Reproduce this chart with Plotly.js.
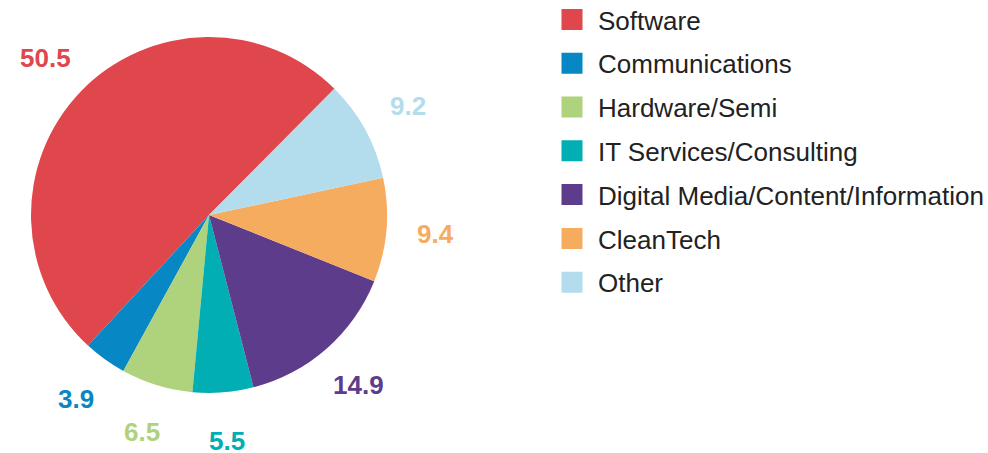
<!DOCTYPE html>
<html>
<head>
<meta charset="utf-8">
<script src="https://cdn.plot.ly/plotly-3.0.1.min.js"></script>
<style>html,body{margin:0;padding:0;background:#fff;}#chart{width:988px;height:453px;}</style>
</head>
<body>
<div id="chart"></div>
<script>
const labels = ["Software", "Communications", "Hardware/Semi", "IT Services/Consulting", "Digital Media/Content/Information", "CleanTech", "Other"];
const values = [50.5, 3.9, 6.5, 5.5, 14.9, 9.4, 9.2];
const colors = ["#E0474C", "#0787C3", "#AFD27D", "#00AEB3", "#5E3C8C", "#F6AC5F", "#B3DCEC"];

const W = 988, H = 453;
const cx = 209, cy = 215, r = 178, labelR = 227;
const startAngle = 44.8; // clockwise from 12 o'clock, where the first slice begins (going counterclockwise)
const FONT = 'Liberation Sans, Arial, sans-serif';

const total = values.reduce((a, b) => a + b, 0);
// Plotly: with counterclockwise direction the first slice spans [rotation, rotation + span0]
const rotation = startAngle - values[0] / total * 360;

const annotations = [];
let start = startAngle;
values.forEach((v, i) => {
  const span = v / total * 360;
  const mid = (start - span / 2) * Math.PI / 180;
  start -= span;
  annotations.push({
    x: (cx + labelR * Math.sin(mid)) / W,
    y: 1 - (cy - labelR * Math.cos(mid)) / H,
    xref: 'paper', yref: 'paper',
    xanchor: 'center', yanchor: 'middle',
    height: 24,
    showarrow: false,
    text: '<b>' + v.toFixed(1) + '</b>',
    font: {family: FONT, size: 26, color: colors[i]}
  });
});

const data = [{
  type: 'pie',
  labels: labels,
  values: values,
  sort: false,
  direction: 'counterclockwise',
  rotation: rotation,
  marker: {colors: colors, line: {width: 0}},
  textinfo: 'none',
  showlegend: false,
  hoverinfo: 'label+value',
  domain: {x: [(cx - r) / W, (cx + r) / W], y: [1 - (cy + r) / H, 1 - (cy - r) / H]}
}];

// legend entries (one per category), drawn by Plotly's legend
labels.forEach((lab, i) => {
  data.push({
    type: 'scatter', mode: 'markers',
    x: [null], y: [null],
    name: lab, legendgroup: 'g' + i,
    marker: {symbol: 'square', size: 16, color: colors[i], line: {width: 5, color: colors[i]}},
    hoverinfo: 'skip'
  });
});

const layout = {
  width: W, height: H,
  margin: {l: 0, r: 0, t: 0, b: 0, autoexpand: false},
  paper_bgcolor: '#fff',
  plot_bgcolor: 'rgba(0,0,0,0)',
  xaxis: {visible: false, domain: [0.99, 1]},
  yaxis: {visible: false, domain: [0.99, 1]},
  showlegend: true,
  legend: {
    x: 546 / W, y: 1 + 4 / H, xanchor: 'left', yanchor: 'top',
    itemwidth: 42,
    tracegroupgap: 7,
    maxheight: 1,
    font: {family: FONT, size: 26, color: '#222'},
    bgcolor: 'rgba(0,0,0,0)', traceorder: 'grouped'
  },
  annotations: annotations
};

Plotly.newPlot('chart', data, layout, {displayModeBar: false, staticPlot: true});
</script>
</body>
</html>
